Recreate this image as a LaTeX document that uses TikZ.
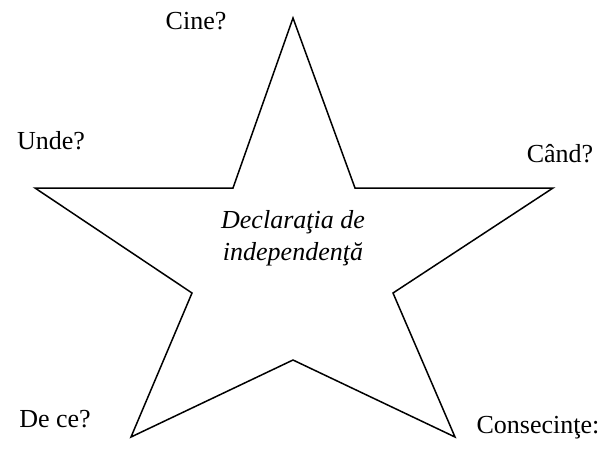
\documentclass[tikz,border=0pt]{standalone}
\usepackage{fontspec}
\setmainfont{Liberation Serif}
\usetikzlibrary{positioning}

\begin{document}
\begin{tikzpicture}[
            x=1pt,y=-1pt,
            lbl/.style={
                    inner sep=0pt,
                    anchor=base,
                    font=\fontsize{26}{32}\selectfont
                },
            mid/.style={
                    inner sep=0pt,
                    align=center,
                    anchor=base,
                    font=\fontsize{26}{32}\selectfont\itshape
                },
            edge/.style={
                    draw,
                    line width=1.5pt,
                    line join=miter
                }
        ]
        \useasboundingbox (0,0) rectangle (601,467);
        \coordinate (top) at (293,18);
        \coordinate (il) at (233,188);
        \coordinate (left) at (35,188);
        \coordinate (lli) at (192,293);
        \coordinate (bl) at (131,437);
        \coordinate (bot) at (293,360);
        \coordinate (br) at (455,437);
        \coordinate (lri) at (393,293);
        \coordinate (right) at (553,188);
        \coordinate (ir) at (355,188);

        \draw[edge] (top) -- (il) -- (left) -- (lli) -- (bl) -- (bot)
        -- (br) -- (lri) -- (right) -- (ir) -- cycle;

        \node[mid] (decl) at (293,260) {Declaraţia de\\independenţă};

        \node[lbl] (cine) at (196,29) {Cine?};
        \node[lbl] (unde) at (51,149) {Unde?};
        \node[lbl] (cand) at (560,162) {Când?};
        \node[lbl] (dece) at (55,427) {De ce?};
        \node[lbl] (cons) at (538,433) {Consecinţe:};
    \end{tikzpicture}
\end{document}
